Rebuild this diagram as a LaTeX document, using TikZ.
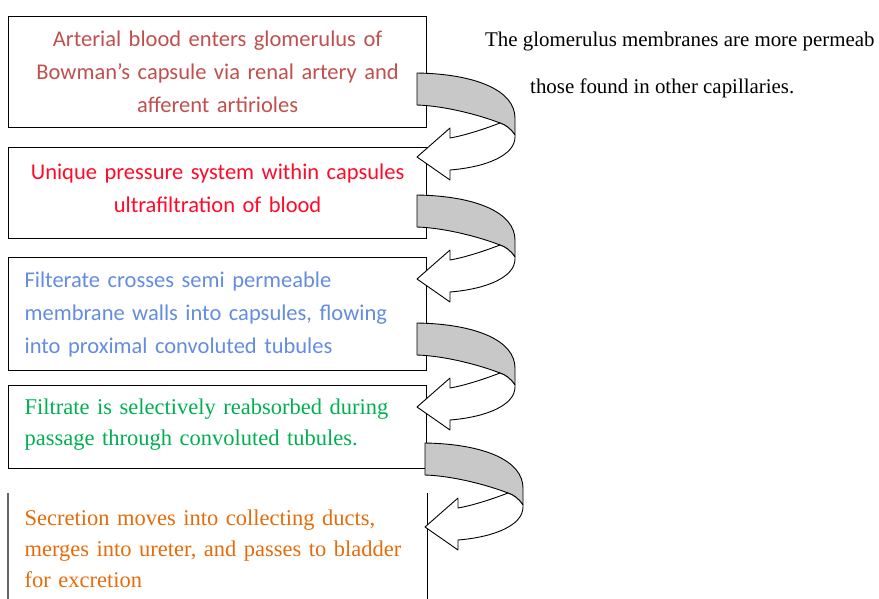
\documentclass[tikz,border=0pt]{standalone}
\usepackage{fontspec}
\setmainfont{Liberation Serif}
\newfontfamily\calibrifont{Carlito}
\usetikzlibrary{calc}
\definecolor{bloodred}{RGB}{192,80,77}
\definecolor{brightred}{RGB}{255,10,40}
\definecolor{filterblue}{RGB}{100,140,225}
\definecolor{leafgreen}{RGB}{0,176,80}
\definecolor{deeporange}{RGB}{228,108,10}
\definecolor{bandgray}{RGB}{200,200,200}
\tikzstyle{boxstyle}=[draw=black,line width=1.2pt,rectangle,minimum width=418pt,inner xsep=16pt,inner ysep=0pt,text width=386pt]
\tikzstyle{sansbox}=[font=\calibrifont\fontsize{22.5}{33}\selectfont]
\tikzstyle{serifbox}=[font=\fontsize{22.5}{31}\selectfont]
\tikzstyle{turnstyle}=[draw=black,line width=0.9pt,line join=round]

\begin{document}
\begin{tikzpicture}[x=1pt,y=-1pt]

      % page frame, same size as the picture
      \useasboundingbox (0,0) rectangle (879,599);
      \clip (0,0) rectangle (879,599);

      % Draw the steps as boxes
      \node[boxstyle,sansbox,anchor=north west,minimum height=111pt,align=center,text=bloodred] at (8,16) (b1)
        {Arterial blood enters glomerulus of\\Bowman’s capsule via renal artery and\\afferent artirioles};
      \node[boxstyle,sansbox,anchor=north west,minimum height=91pt,align=center,text=brightred] at (8,147) (b2)
        {Unique pressure system within capsules\\ultrafiltration of blood\par\vspace{10pt}};
      \node[boxstyle,sansbox,anchor=north west,minimum height=113pt,align=left,text=filterblue] at (8,257) (b3)
        {Filterate crosses semi permeable\\membrane walls into capsules, flowing\\into proximal convoluted tubules};
      \node[boxstyle,serifbox,anchor=north west,minimum height=83pt,align=left,text=leafgreen] at (8,385) (b4)
        {Filtrate is selectively reabsorbed during\\passage through convoluted tubules.\par\vspace{5pt}};
      % last box runs off the page, so only its sides
      \node[boxstyle,serifbox,draw=none,anchor=north west,inner ysep=16pt,align=left,text=deeporange] at (8,493) (b5)
        {Secretion moves into collecting ducts,\\merges into ureter, and passes to bladder\\for excretion};
      \draw[line width=1.2pt,black!60] (b5.north west) --++ (0,140);
      \draw[line width=1.2pt] (b5.north east) --++ (0,140);

      % note on the right (cut at the page edge)
      \node[anchor=base west,inner sep=0pt,font=\fontsize{20.9}{24}\selectfont] at (485,47) (note1)
        {The glomerulus membranes are more permeab};
      \node[anchor=base west,inner sep=0pt,font=\fontsize{20.9}{24}\selectfont] at (530,94) (note2)
        {those found in other capillaries.};

      % Draw the turning arrows from one box to the next
      \foreach \ax/\ay in {417/73, 417/195, 417/323, 425/443}{
        \begin{scope}[shift={(\ax,\ay)}]
          % back of the band
          \draw[turnstyle,fill=bandgray] (0,0) .. controls (60,1) and (98,18) .. (98,45) -- (98,62)
            .. controls (94,56) and (89,52) .. (83,50) .. controls (65,43) and (30,33) .. (0,32) -- cycle;
          % front of the band with the head
          \draw[turnstyle,fill=white] (83,50) .. controls (65,57) and (45,63) .. (33,65) -- (33,55)
            -- (0,84) -- (33,107) -- (33,97) .. controls (70,94) and (98,82) .. (98,64) -- (98,62)
            .. controls (94,56) and (89,52) .. (83,50) -- cycle;
        \end{scope}
      }

\end{tikzpicture}
\end{document}
